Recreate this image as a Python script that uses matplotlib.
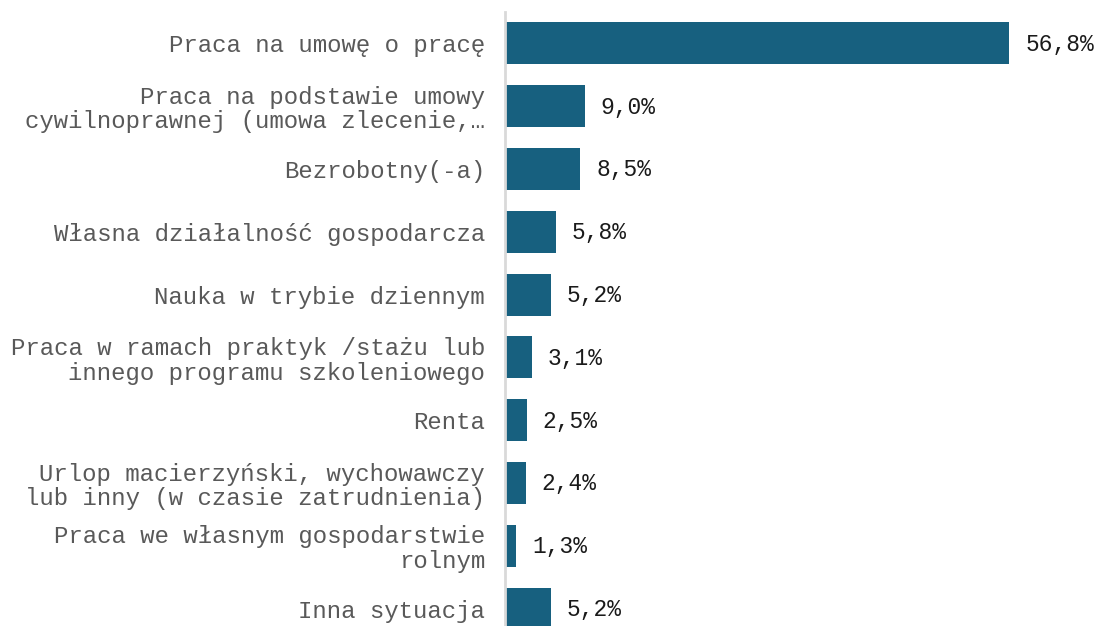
import matplotlib
matplotlib.use("Agg")
import matplotlib.pyplot as plt

categories = [
    "Praca na umowę o pracę",
    "Praca na podstawie umowy\ncywilnoprawnej (umowa zlecenie,…",
    "Bezrobotny(-a)",
    "Własna działalność gospodarcza",
    "Nauka w trybie dziennym",
    "Praca w ramach praktyk /stażu lub\ninnego programu szkoleniowego",
    "Renta",
    "Urlop macierzyński, wychowawczy\nlub inny (w czasie zatrudnienia)",
    "Praca we własnym gospodarstwie\nrolnym",
    "Inna sytuacja",
]
values = [56.8, 9.0, 8.5, 5.8, 5.2, 3.1, 2.5, 2.4, 1.3, 5.2]
value_labels = ["56,8%", "9,0%", "8,5%", "5,8%", "5,2%", "3,1%", "2,5%", "2,4%", "1,3%", "5,2%"]

W, H = 1099, 626
fig = plt.figure(figsize=(W / 100, H / 100), dpi=100)
ax = fig.add_axes([504.5 / W, -14 / H, (W - 504.5) / W, 628 / H])

ypos = list(range(len(categories)))
ax.barh(ypos, values, height=0.67, color="#17607f")
ax.set_ylim(9.5, -0.5)
ax.set_xlim(0, (W - 504.5) / 8.89)

font = "Liberation Mono"
for y, v, lab in zip(ypos, values, value_labels):
    ax.annotate(lab, (v, y), xytext=(16, -1), textcoords="offset pixels",
                ha="left", va="center", fontsize=16.5, family=font, color="#1a1a1a")

ax.set_yticks(ypos)
ax.set_yticklabels(categories, fontsize=17.3, family=font, color="#595959", linespacing=1.1)
for t in ax.get_yticklabels():
    t.set_y(t.get_position()[1])
ax.tick_params(axis="y", length=0, pad=14)
ax.set_xticks([])
for s in ["top", "right", "bottom"]:
    ax.spines[s].set_visible(False)
ax.spines["left"].set_color("#d9d9d9")
ax.spines["left"].set_linewidth(2)

fig.savefig("out.png", dpi=100)
